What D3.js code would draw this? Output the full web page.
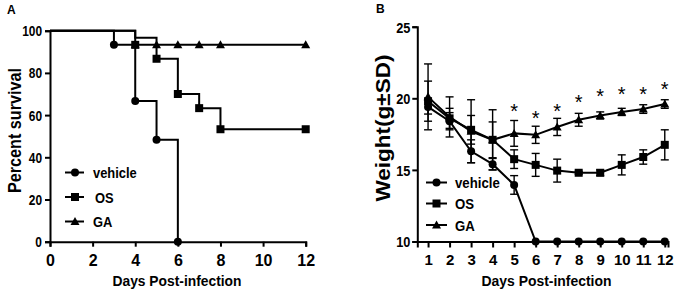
<!DOCTYPE html>
<html>
<head>
<meta charset="utf-8">
<script src="https://cdn.jsdelivr.net/npm/d3@7"></script>
<style>
  body { margin: 0; background: #fff; }
  text { font-family: "Liberation Sans", Arial, sans-serif; fill: #000; }
</style>
</head>
<body>
<div id="chart"></div>
<script>
// ---- data: panel A (survival, step curves) ----
var vehicleSurv = [[0, 100], [3, 93.3], [4, 66.7], [5, 48.3], [6, 0]];
var osSurv = [[0, 100], [4, 96.7], [5, 86.7], [6, 70], [7, 63.3], [8, 53.3], [12, 53.3]];
var gaSurv = [[0, 100], [4, 93.3], [12, 93.3]];
var vehicleSurvMarks = [[3, 93.3], [4, 66.7], [5, 48.3], [6, 0]];
var osSurvMarks = [[4, 93.3], [5, 86.7], [6, 70], [7, 63.3], [8, 53.3], [12, 53.3]];
var gaSurvMarks = [[4, 93.3], [5, 93.3], [6, 93.3], [7, 93.3], [8, 93.3], [12, 93.3]];
var survTicksX = [0, 2, 4, 6, 8, 10, 12];
var survTicksY = [0, 20, 40, 60, 80, 100];

// ---- data: panel B (weight, mean +/- SD) ----
var days = [1, 2, 3, 4, 5, 6, 7, 8, 9, 10, 11, 12];
var vehicleW = [19.4, 18.4, 16.3, 15.4, 13.95, 10, 10, 10, 10, 10, 10, 10];
var vehicleSD = [0.5, 0.6, 0.8, 0.4, 0.65, 0, 0, 0, 0, 0, 0, 0];
var osW = [19.8, 18.6, 17.8, 17.1, 15.75, 15.35, 14.95, 14.8, 14.8, 15.35, 15.9, 16.75];
var osSD = [1.4, 0.7, 1.0, 1.25, 0.65, 0.8, 0.8, 0.1, 0.2, 0.7, 0.5, 1.05];
var gaW = [20.1, 18.7, 17.7, 17.1, 17.55, 17.45, 18.0, 18.5, 18.8, 19.05, 19.25, 19.6];
var gaSD = [2.3, 1.4, 2.2, 2.1, 0.9, 0.6, 0.6, 0.45, 0.25, 0.25, 0.3, 0.3];
var starDays = [5, 6, 7, 8, 9, 10, 11, 12];
var starY = [19.4, 18.95, 19.4, 20.05, 20.5, 20.6, 20.6, 20.95];
var weightTicksY = [10, 15, 20, 25];

var seriesNames = ["vehicle", "OS", "GA"];
var shapes = ["circle", "square", "triangle"];

var svg = d3.select("#chart").append("svg")
  .attr("width", 680)
  .attr("height", 295);

// squeeze text horizontally (the figure's lettering is narrow)
function squeeze(sel, k) {
  sel.each(function () {
    var w = this.getComputedTextLength();
    this.setAttribute("textLength", w * k);
    this.setAttribute("lengthAdjust", "spacingAndGlyphs");
  });
}

function drawMark(g, shape, x, y) {
  if (shape == "circle") {
    g.append("circle").attr("cx", x).attr("cy", y).attr("r", 4).attr("fill", "#000");
  } else if (shape == "square") {
    g.append("rect").attr("x", x - 4).attr("y", y - 4).attr("width", 8).attr("height", 8).attr("fill", "#000");
  } else {
    g.append("path")
      .attr("d", "M" + x + "," + (y - 4.5) + "L" + (x + 4.5) + "," + (y + 3.5) + "L" + (x - 4.5) + "," + (y + 3.5) + "Z")
      .attr("fill", "#000");
  }
}

function styleAxis(g) {
  g.selectAll("path, line").attr("stroke", "#000").attr("stroke-width", 2);
  g.selectAll("text").attr("font-weight", "bold").attr("fill", "#000");
}

// ================= panel A =================
var xA = d3.scaleLinear().domain([0, 12]).range([50, 305.7]);
var yA = d3.scaleLinear().domain([0, 100]).range([241.7, 30.7]);

var gA = svg.append("g");

var axAx = gA.append("g")
  .attr("transform", "translate(0," + yA(0) + ")")
  .call(d3.axisBottom(xA).tickValues(survTicksX).tickSizeOuter(0).tickSize(5).tickPadding(8));
styleAxis(axAx);
axAx.selectAll("text").attr("font-size", "16px");

var ayA = gA.append("g")
  .attr("transform", "translate(" + xA(0) + ",0)")
  .call(d3.axisLeft(yA).tickValues(survTicksY).tickSizeOuter(0).tickSize(5).tickPadding(3));
styleAxis(ayA);
ayA.selectAll("text").attr("font-size", "14px").attr("dy", "0.36em");
squeeze(ayA.selectAll("text"), 0.85);

var stepLine = d3.line()
  .x(function (d) { return xA(d[0]); })
  .y(function (d) { return yA(d[1]); })
  .curve(d3.curveStepAfter);

[vehicleSurv, osSurv, gaSurv].forEach(function (s) {
  gA.append("path").attr("d", stepLine(s))
    .attr("fill", "none").attr("stroke", "#000").attr("stroke-width", 2);
});

[vehicleSurvMarks, osSurvMarks, gaSurvMarks].forEach(function (m, i) {
  m.forEach(function (d) { drawMark(gA, shapes[i], xA(d[0]), yA(d[1])); });
});

// legend A
var legA = [172.5, 197, 221.5];
seriesNames.forEach(function (n, i) {
  gA.append("line").attr("x1", 65).attr("x2", 84).attr("y1", legA[i]).attr("y2", legA[i])
    .attr("stroke", "#000").attr("stroke-width", 2);
  drawMark(gA, shapes[i], 75, legA[i]);
  var t = gA.append("text").attr("x", i == 1 ? 95 : 93).attr("y", legA[i] + 5.5)
    .attr("font-size", "15px").attr("font-weight", "bold").text(n);
  squeeze(t, 0.86);
});

gA.append("text")
  .attr("x", 177).attr("y", 286)
  .attr("text-anchor", "middle").attr("font-size", "15px").attr("font-weight", "bold")
  .attr("textLength", 129).attr("lengthAdjust", "spacingAndGlyphs")
  .text("Days Post-infection");

gA.append("text")
  .attr("transform", "translate(21,130.5) rotate(-90)")
  .attr("text-anchor", "middle").attr("font-size", "19px").attr("font-weight", "bold")
  .attr("textLength", 125).attr("lengthAdjust", "spacingAndGlyphs")
  .text("Percent survival");

gA.append("text").attr("x", 7).attr("y", 13.5)
  .attr("font-size", "12px").attr("font-weight", "bold").text("A");

// ================= panel B =================
var xB = d3.scaleLinear().domain([0.5, 12.15]).range([417.3, 668]);
var yB = d3.scaleLinear().domain([10, 25]).range([241.5, 26.7]);

var gB = svg.append("g");

var axB = gB.append("g")
  .attr("transform", "translate(0," + yB(10) + ")")
  .call(d3.axisBottom(xB).tickValues(days).tickFormat(d3.format("d")).tickSizeOuter(0).tickSize(6).tickPadding(7));
styleAxis(axB);
axB.selectAll("text").attr("font-size", "15px");

var ayB = gB.append("g")
  .attr("transform", "translate(" + xB(0.5) + ",0)")
  .call(d3.axisLeft(yB).tickValues(weightTicksY).tickSizeOuter(0).tickSize(5).tickPadding(2));
styleAxis(ayB);
ayB.selectAll("text").attr("font-size", "15px").attr("dy", "0.36em");
squeeze(ayB.selectAll("text"), 0.85);

var wLine = d3.line()
  .x(function (d) { return xB(d[0]); })
  .y(function (d) { return yB(d[1]); });

var groupsB = [[vehicleW, vehicleSD], [osW, osSD], [gaW, gaSD]];

// error bars first
groupsB.forEach(function (g) {
  days.forEach(function (d, i) {
    var sd = g[1][i];
    if (!sd) return;
    var x = xB(d), y1 = yB(g[0][i] + sd), y2 = yB(g[0][i] - sd);
    gB.append("line").attr("x1", x).attr("x2", x).attr("y1", y1).attr("y2", y2)
      .attr("stroke", "#000").attr("stroke-width", 1.4);
    [y1, y2].forEach(function (yy) {
      gB.append("line").attr("x1", x - 4).attr("x2", x + 4).attr("y1", yy).attr("y2", yy)
        .attr("stroke", "#000").attr("stroke-width", 1.4);
    });
  });
});

groupsB.forEach(function (g, k) {
  var pts = days.map(function (d, i) { return [d, g[0][i]]; });
  gB.append("path").attr("d", wLine(pts))
    .attr("fill", "none").attr("stroke", "#000").attr("stroke-width", 2);
  pts.forEach(function (p) { drawMark(gB, shapes[k], xB(p[0]), yB(p[1])); });
});

// significance stars
starDays.forEach(function (d, i) {
  gB.append("text").attr("x", xB(d)).attr("y", yB(starY[i]) + 11.5)
    .attr("text-anchor", "middle").attr("font-size", "20px").text("*");
});

// legend B
var legB = [182.5, 203.5, 225];
seriesNames.forEach(function (n, i) {
  gB.append("line").attr("x1", 426).attr("x2", 447).attr("y1", legB[i]).attr("y2", legB[i])
    .attr("stroke", "#000").attr("stroke-width", 2);
  drawMark(gB, shapes[i], 436.5, legB[i]);
  var t = gB.append("text").attr("x", 455).attr("y", legB[i] + 5.5)
    .attr("font-size", "15px").attr("font-weight", "bold").text(n);
  squeeze(t, 0.88);
});

gB.append("text")
  .attr("x", 546.5).attr("y", 286)
  .attr("text-anchor", "middle").attr("font-size", "15px").attr("font-weight", "bold")
  .attr("textLength", 130).attr("lengthAdjust", "spacingAndGlyphs")
  .text("Days Post-infection");

gB.append("text")
  .attr("transform", "translate(390,128) rotate(-90)")
  .attr("text-anchor", "middle").attr("font-size", "20px").attr("font-weight", "bold")
  .attr("textLength", 147).attr("lengthAdjust", "spacingAndGlyphs")
  .text("Weight(g±SD)");

gB.append("text").attr("x", 376).attr("y", 13)
  .attr("font-size", "12px").attr("font-weight", "bold").text("B");
</script>
</body>
</html>
